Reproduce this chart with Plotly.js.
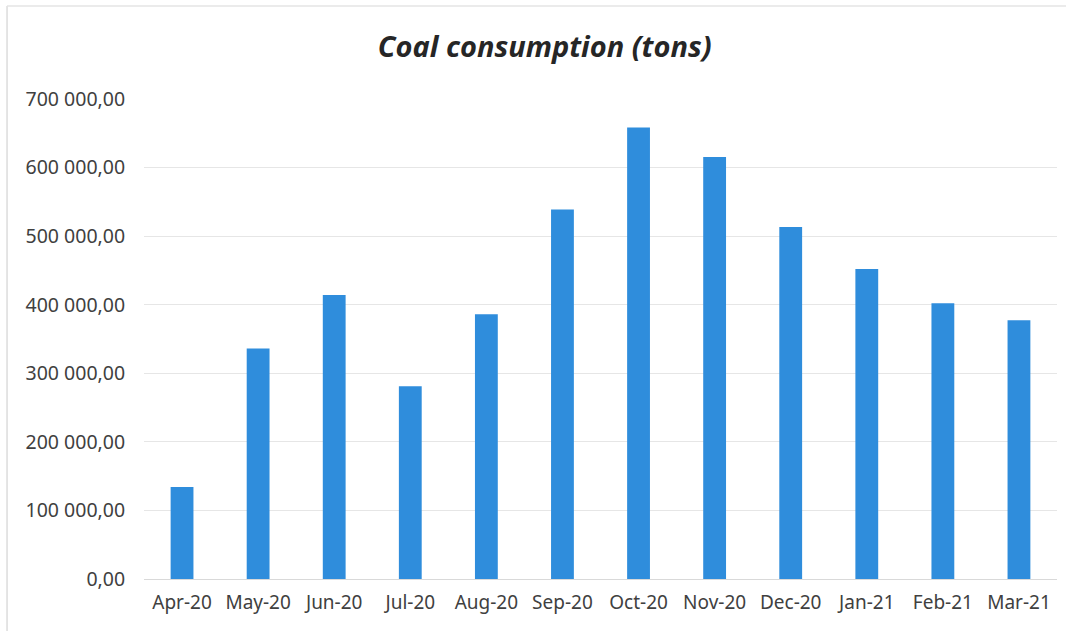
<!DOCTYPE html>
<html>
<head>
<meta charset="utf-8">
<script src="https://cdn.plot.ly/plotly-3.0.1.min.js"></script>
<style>html,body{margin:0;padding:0;background:#fff;}#chart{width:1066px;height:631px;}</style>
</head>
<body>
<div id="chart"></div>
<script>
const months = ["Apr-20","May-20","Jun-20","Jul-20","Aug-20","Sep-20","Oct-20","Nov-20","Dec-20","Jan-21","Feb-21","Mar-21"];
const consumption = [134000, 336000, 414000, 281000, 386000, 539000, 658500, 615500, 513500, 452000, 402000, 377500];
const yTicks = [0, 100000, 200000, 300000, 400000, 500000, 600000, 700000];

const fontFam = "Noto Sans, Open Sans, Liberation Sans, sans-serif";
Plotly.newPlot('chart', [{
  type: 'bar',
  x: months,
  y: consumption,
  marker: {color: '#2f8ddc'},
  hoverinfo: 'x+y'
}], {
  width: 1066, height: 631,
  separators: ', ',
  paper_bgcolor: '#fff', plot_bgcolor: '#fff',
  margin: {l: 144, r: 9, t: 99, b: 52},
  bargap: 0.70,
  title: {text: '<b><i>Coal consumption (tons)</i></b>', x: 0.511, xanchor: 'center', y: 0.925, yanchor: 'middle',
          font: {family: fontFam, size: 29, color: '#262626'}},
  xaxis: {
    showgrid: false, zeroline: false, showline: false,
    tickfont: {family: fontFam, size: 19, color: '#404040'},
    ticks: 'outside', ticklen: 6, tickcolor: 'rgba(0,0,0,0)'
  },
  yaxis: {
    range: [0, 700000], tickvals: yTicks, tickformat: ',.2f',
    showgrid: true, gridcolor: '#e6e6e6', gridwidth: 1,
    zeroline: true, zerolinecolor: '#d9d9d9', zerolinewidth: 1,
    showline: false,
    tickfont: {family: fontFam, size: 19.5, color: '#404040'},
    ticks: 'outside', ticklen: 14, tickcolor: 'rgba(0,0,0,0)'
  },
  shapes: [
    {type: 'line', xref: 'paper', yref: 'paper', x0: -0.150, x1: -0.150, y0: 1.194, y1: -0.11,
     line: {color: '#dcdcdc', width: 1.5}},
    {type: 'line', xref: 'paper', yref: 'paper', x0: -0.150, x1: 1.01, y0: 1.194, y1: 1.194,
     line: {color: '#e4e4e4', width: 1.5}}
  ],
  showlegend: false
}, {displayModeBar: false, staticPlot: true});
</script>
</body>
</html>
